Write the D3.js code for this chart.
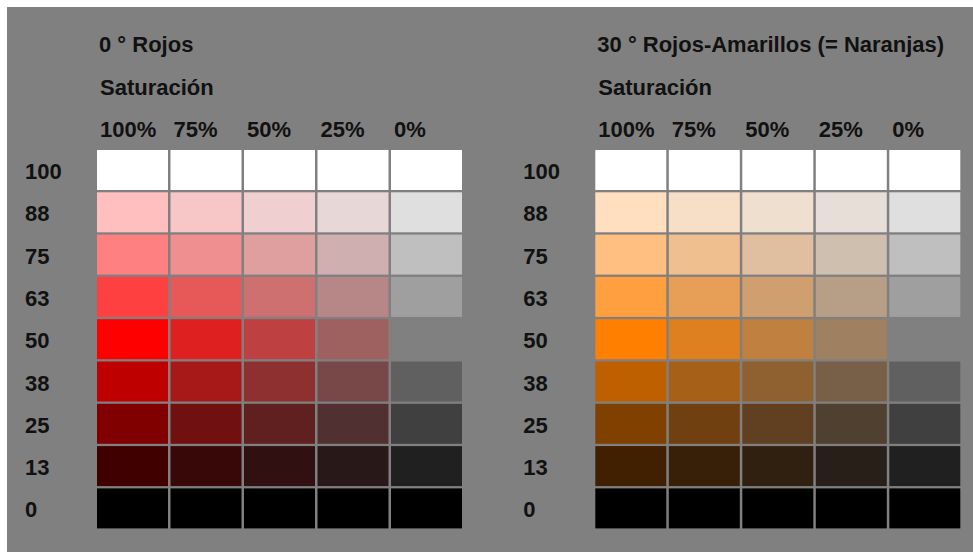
<!DOCTYPE html>
<html><head><meta charset="utf-8">
<script src="https://cdn.jsdelivr.net/npm/d3@7"></script>
<style>html,body{margin:0;padding:0;background:#fff;overflow:hidden}</style>
</head><body>
<script>
const hues = [0, 30];
const titles = ["0 ° Rojos", "30 ° Rojos-Amarillos (= Naranjas)"];
const saturations = [100, 75, 50, 25, 0];
const satLabels = ["100%", "75%", "50%", "25%", "0%"];
const lightness = [100, 87.5, 75, 62.5, 50, 37.5, 25, 12.5, 0];
const lightLabels = ["100", "88", "75", "63", "50", "38", "25", "13", "0"];
const subtitle = "Saturación";

const W = 973, H = 552;
const svg = d3.select("body").append("svg").attr("width", W).attr("height", H);
svg.append("rect").attr("x", 7).attr("y", 7).attr("width", W - 7).attr("height", H - 7).attr("fill", "#808080");

const font = "'Liberation Sans', Arial, sans-serif";
const panelOffsets = [0, 498.3];

const x0 = d3.scaleBand().domain(saturations).range([97, 462]).paddingInner(0.034).paddingOuter(0);
const y = d3.scaleBand().domain(lightness).range([150, 528.4]).paddingInner(0.0544).paddingOuter(0);

hues.forEach((h, i) => {
  const g = svg.append("g").attr("transform", `translate(${panelOffsets[i]},0)`);
  const txt = (t, x, yy) => g.append("text").attr("x", x).attr("y", yy).text(t)
    .attr("font-family", font).attr("font-weight", "bold").attr("font-size", 22).attr("fill", "#111");
  txt(titles[i], 99, 52);
  txt(subtitle, 100, 95);
  saturations.forEach((s, j) => txt(satLabels[j], x0(s) + 3, 137));
  lightness.forEach((l, k) => txt(lightLabels[k], 25, y(l) + y.bandwidth() / 2 + 9));
  const cells = [];
  lightness.forEach(l => saturations.forEach(s => cells.push({l, s})));
  g.selectAll("rect.cell").data(cells).join("rect").attr("class", "cell")
    .attr("x", d => x0(d.s)).attr("y", d => y(d.l))
    .attr("width", x0.bandwidth()).attr("height", y.bandwidth())
    .attr("fill", d => d3.hsl(h, d.s / 100, d.l / 100).formatHex());
});
</script>
</body></html>
